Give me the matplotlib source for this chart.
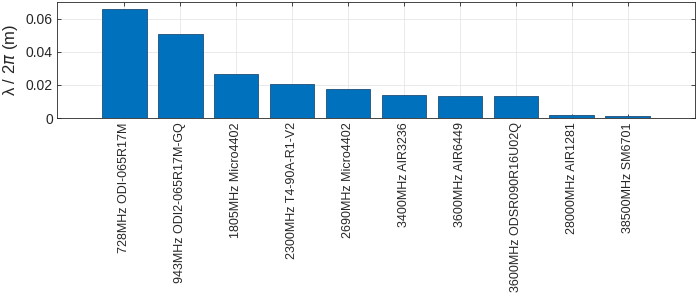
import matplotlib
matplotlib.use("Agg")
import matplotlib.pyplot as plt

categories = ["728MHz ODI-065R17M", "943MHz ODI2-065R17M-GQ", "1805MHz Micro4402",
              "2300MHz T4-90A-R1-V2", "2690MHz Micro4402", "3400MHz AIR3236",
              "3600MHz AIR6449", "3600MHz ODSR090R16U02Q", "28000MHz AIR1281",
              "38500MHz SM6701"]
values = [0.0655, 0.0506, 0.0264, 0.0207, 0.0177, 0.0140, 0.0133, 0.0133, 0.0017, 0.0012]
yticks = [0, 0.02, 0.04, 0.06]
ytick_labels = ["0", "0.02", "0.04", "0.06"]

plt.rcParams['font.family'] = ['Liberation Sans', 'DejaVu Sans']
fig = plt.figure(figsize=(6.99, 2.97), dpi=100)
ax = fig.add_axes([57/699, 1-118/297, (695-57)/699, 116/297])
x = list(range(len(categories)))
ax.bar(x, values, width=0.8, color="#0072BD", edgecolor="#1f4e79", linewidth=0.6, zorder=3)
ax.set_xlim(-1.2, len(categories) - 1 + 1.2)
ax.set_ylim(0, 0.07)
ax.set_yticks(yticks)
ax.set_yticklabels(ytick_labels, fontsize=10, color="#262626")
ax.set_xticks(x)
ax.set_xticklabels(categories, rotation=90, fontsize=9, color="#262626")
ax.grid(True, color="#e6e6e6", linewidth=0.6, zorder=0)
ax.set_axisbelow(True)
ax.tick_params(direction="in", top=True, right=True, length=3, width=0.6, colors="#262626", pad=3)
for s in ax.spines.values():
    s.set_color("#262626")
    s.set_linewidth(0.6)
ax.set_ylabel("\u03bb / 2$\\pi$ (m)", fontsize=12, color="#262626", labelpad=4)
fig.savefig("out.png", dpi=100)
